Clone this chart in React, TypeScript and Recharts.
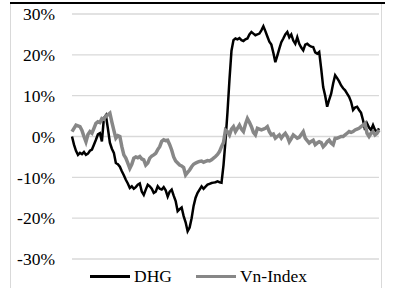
import React from 'react';
import { LineChart, Line, XAxis, YAxis, CartesianGrid, Legend } from 'recharts';

// cumulative return, %
const dhg = [
    0, -2, -3.5, -4.5, -4, -4.3, -3.8, -4.5, -4.2, -3.5,
    -3.2, -2, -0.8, 0.5, 0.8, -1.2, 4.5, 5.2, 2, -1.5,
    -3, -4, -6.5, -6.8, -7.4, -8.5, -9.5, -10.6, -11.5, -12.6,
    -12.2, -12.8, -12.4, -11.8, -11.5, -13.5, -14.3, -13, -11.8, -12.2,
    -12.8, -13.8, -13.5, -12.2, -12.8, -13, -12.4, -13.2, -14.7, -13.5,
    -13, -14.5, -15.8, -18.3, -17.8, -17.4, -19.5, -21, -23.2, -22.3,
    -20, -17, -15, -13.8, -13, -12.2, -12.8, -12.3, -11.8, -11.6,
    -11.4, -11.3, -11.2, -11, -11.2, -11.3, -7, -1, 6, 14,
    21, 23.6, 24, 23.8, 24.1, 23.6, 23.4, 23.8, 24, 25,
    25.6, 25.2, 24.8, 25, 25.2, 26, 27, 25.8, 24.5, 23.2,
    22.5, 20.5, 18.2, 19.8, 21.5, 23.1, 24, 25, 25.6, 24.3,
    25, 23.5, 22.7, 24.3, 22.7, 21.8, 21.1, 22.5, 22.7, 22.3,
    22, 21.9, 20.6, 20.3, 20.7, 16.6, 12.1, 10, 7.3, 9,
    10.5, 13, 15, 14.3, 13.5, 12.5, 11.8, 11.3, 10.5, 9.7,
    8.5, 6.5, 7.1, 7.3, 6.5, 5.8, 4, 1.6, 3.2, 2.2,
    1.6, 2.8, 1.6, 1.2, 2,
];

const vnIndex = [
    1.2, 2, 2.8, 2.6, 2.4, 1.5, 0, -1.3, 0.5, 1.2,
    0.8, 2, 3.2, 3.6, 3.4, 4.4, 4.2, 5, 5.3, 5.7,
    3.5, 1.5, -0.4, 0.2, 0, -2.5, -4.5, -5.3, -6.5, -7.8,
    -6.8, -5.3, -5, -5.2, -4.9, -5.5, -5.7, -7, -6.5, -5.3,
    -4.8, -4.5, -4.1, -3.2, -2.5, -1.2, -0.8, -1, -0.9, -2,
    -3.3, -5, -6, -6.5, -7, -7.2, -7.6, -9.4, -8.8, -8.2,
    -7.4, -6.8, -6.5, -6.3, -6.1, -6, -6.3, -6.1, -5.9, -6,
    -5.7, -5.3, -4.9, -4.4, -3.7, -2.5, -1.5, 1.6, 1.2, 0.4,
    1.8, 2.4, 1.2, 2, 2.8, 1.8, 1.2, 3, 4.4, 3.5,
    2.4, 1, 0.4, 2, 1.8, 1.6, 1.8, 2, 2.4, 1.2,
    0.4, 0.6, -0.4, 0, 0.4, -0.4, 0.3, 0.8, 0, -1.3,
    -0.5, 0.4, 0, -0.4, -0.2, 0.5, 1.2, -0.4, -1, -1.6,
    -1.2, -0.9, -2, -1.6, -1.3, -1.5, -2.5, -2, -1.3, -0.9,
    -1.6, -2, -0.4, -0.4, -0.2, 0, 0, 0.4, 0.8, 1.2,
    1, 1.2, 1.6, 1.8, 2, 2.4, 2.8, 3.2, 0.8, 0,
    0.8, 1.2, 0.4, 0.8, 1.6,
];

const days = dhg.map((_, i) => i + 1);
const yTicks = [-30, -20, -10, 0, 10, 20, 30];

const data = days.map((day, i) => ({ day, dhg: dhg[i], vn: vnIndex[i] }));

const FONT = 'Liberation Serif';
const WIDTHS: Record<string, number> = { DHG: 2.5, 'Vn-Index': 3.5 };

const renderLegend = (props: any) => (
    <div style={{ display: 'flex', alignItems: 'center', fontFamily: FONT, fontSize: 17.5, color: '#000' }}>
        {props.payload.map((entry: any, i: number) => (
            <div key={`leg-${i}`} style={{ display: 'flex', alignItems: 'center', marginRight: 24 }}>
                <span
                    style={{
                        display: 'inline-block',
                        width: 40,
                        height: WIDTHS[entry.value],
                        background: entry.color,
                        marginRight: 4,
                    }}
                />
                <span>{entry.value}</span>
            </div>
        ))}
    </div>
);

export default function App() {
    return (
        <div style={{ position: 'absolute', left: 0, top: 0, width: 394, height: 288, background: '#fff', overflow: 'hidden', fontFamily: FONT }}>
            <div style={{ position: 'absolute', left: 10, top: 3, width: 370, height: 290, borderLeft: '1px solid #d9d9d9', borderRight: '1px solid #d9d9d9' }} />
            <div style={{ position: 'absolute', left: 10, top: 2, width: 375, height: 2, background: '#000' }} />
            <LineChart width={394} height={288} data={data} margin={{ top: 14, right: 15, bottom: 29, left: 0 }}>
                <CartesianGrid vertical={false} stroke="#d9d9d9" strokeWidth={1.3} />
                <XAxis dataKey="day" type="number" domain={['dataMin', 'dataMax']} hide />
                <YAxis
                    width={72}
                    domain={[-30, 30]}
                    ticks={yTicks}
                    interval={0}
                    tickFormatter={(v) => `${v}%`}
                    axisLine={false}
                    tickLine={false}
                    tickSize={0}
                    tickMargin={17}
                    tick={{ fill: '#000', fontSize: 17.5, fontFamily: FONT }}
                />
                <Legend
                    verticalAlign="middle"
                    align="center"
                    content={renderLegend}
                    wrapperStyle={{ left: 90, top: 266, width: 'auto' }}
                />
                <Line type="linear" dataKey="dhg" name="DHG" stroke="#000" strokeWidth={2.5} dot={false} isAnimationActive={false} />
                <Line type="linear" dataKey="vn" name="Vn-Index" stroke="#878787" strokeWidth={3.5} dot={false} isAnimationActive={false} />
            </LineChart>
        </div>
    );
}
